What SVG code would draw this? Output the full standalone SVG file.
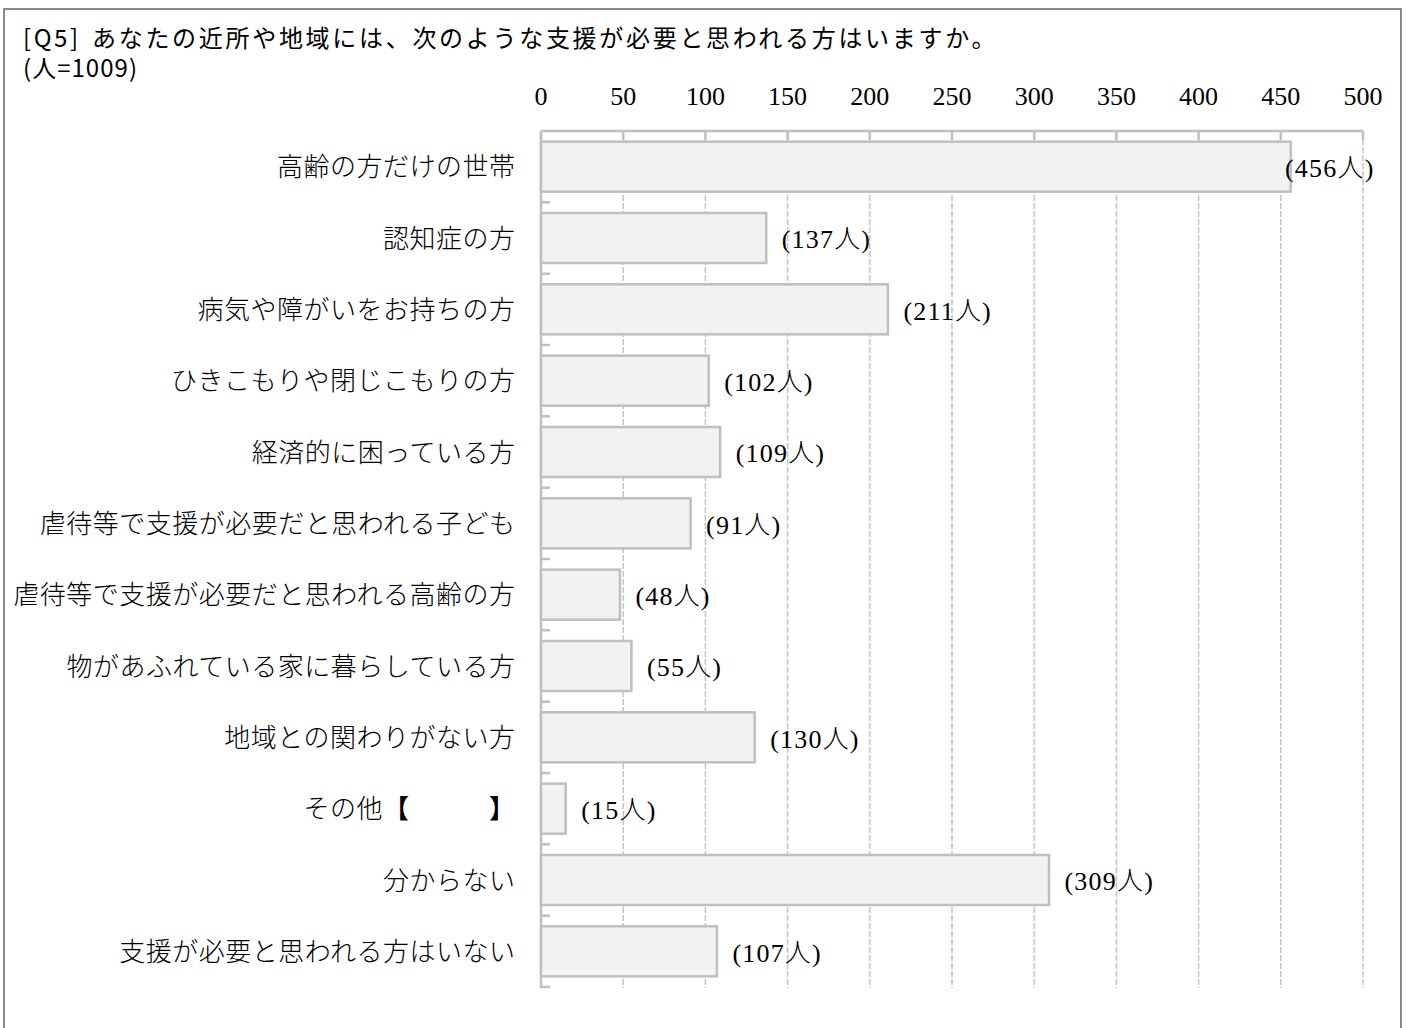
<svg xmlns="http://www.w3.org/2000/svg" width="1407" height="1028" viewBox="0 0 1407 1028">
<style>
.frame{fill:#ffffff;stroke:#898989;stroke-width:2}
.title{font-family:"Noto Sans CJK JP","Noto Sans",sans-serif;font-size:24px;fill:#000}
.ax{stroke:#bfbfbf;stroke-width:2.5;fill:none}
.grid{stroke:#c4c4c4;stroke-width:1.5;stroke-dasharray:6 2;fill:none}
.bar{fill:#f2f2f2;stroke:#bfbfbf;stroke-width:2.5}
.tick{font-family:"Liberation Serif","Noto Sans CJK JP",serif;font-size:26px;fill:#000;text-anchor:middle}
.cat{font-family:"Noto Sans CJK JP","Noto Sans",sans-serif;font-size:26px;font-weight:300;letter-spacing:0.5px;fill:#000;text-anchor:end}
.val{font-family:"Liberation Serif","Noto Sans CJK JP",serif;font-size:26px;font-weight:300;letter-spacing:1.2px;fill:#000}
</style>
<rect class="frame" x="4" y="9" width="1397" height="1030"/>
<g id="title">
<text class="title" x="23" y="47" textLength="55" lengthAdjust="spacing">[Q5]</text>
<text class="title" x="92" y="47" style="letter-spacing:2.7px">あなたの近所や地域には、次のような支援が必要と思われる方はいますか。</text>
<text class="title" x="23" y="77" textLength="114" lengthAdjust="spacing">(人=1009)</text>
</g>
<g id="axis-labels">
<text class="tick" x="541" y="105">0</text>
<text class="tick" x="623.2" y="105">50</text>
<text class="tick" x="705.4" y="105">100</text>
<text class="tick" x="787.6" y="105">150</text>
<text class="tick" x="869.8" y="105">200</text>
<text class="tick" x="952" y="105">250</text>
<text class="tick" x="1034.2" y="105">300</text>
<text class="tick" x="1116.4" y="105">350</text>
<text class="tick" x="1198.6" y="105">400</text>
<text class="tick" x="1280.8" y="105">450</text>
<text class="tick" x="1363" y="105">500</text>
</g>
<g id="gridlines">
<path class="grid" d="M623.2 131V988M705.4 131V988M787.6 131V988M869.8 131V988M952 131V988M1034.2 131V988M1116.4 131V988M1198.6 131V988M1280.8 131V988M1363 131V988"/>
</g>
<g id="axes">
<path class="ax" d="M541 131H1363M541 131V988"/>
<path class="ax" d="M541 131V140M623.2 131V140M705.4 131V140M787.6 131V140M869.8 131V140M952 131V140M1034.2 131V140M1116.4 131V140M1198.6 131V140M1280.8 131V140M1363 131V140"/>
<path class="ax" d="M541 202.33H550M541 273.67H550M541 345H550M541 416.33H550M541 487.67H550M541 559H550M541 630.33H550M541 701.67H550M541 773H550M541 844.33H550M541 915.67H550M541 987H550"/>
</g>
<g id="bar-1">
<rect class="bar" x="541" y="141.67" width="749.7" height="50"/>
<text class="cat" x="515.5" y="176.2">高齢の方だけの世帯</text>
<text class="val" x="1285" y="177">(456人)</text>
</g>
<g id="bar-2">
<rect class="bar" x="541" y="213" width="225.2" height="50"/>
<text class="cat" x="515.5" y="247.5">認知症の方</text>
<text class="val" x="781.7" y="248.3">(137人)</text>
</g>
<g id="bar-3">
<rect class="bar" x="541" y="284.33" width="346.9" height="50"/>
<text class="cat" x="515.5" y="318.8">病気や障がいをお持ちの方</text>
<text class="val" x="903.4" y="319.6">(211人)</text>
</g>
<g id="bar-4">
<rect class="bar" x="541" y="355.67" width="167.7" height="50"/>
<text class="cat" x="515.5" y="390.2">ひきこもりや閉じこもりの方</text>
<text class="val" x="724.2" y="391">(102人)</text>
</g>
<g id="bar-5">
<rect class="bar" x="541" y="427" width="179.2" height="50"/>
<text class="cat" x="515.5" y="461.5">経済的に困っている方</text>
<text class="val" x="735.7" y="462.3">(109人)</text>
</g>
<g id="bar-6">
<rect class="bar" x="541" y="498.33" width="149.6" height="50"/>
<text class="cat" x="515.5" y="532.8">虐待等で支援が必要だと思われる子ども</text>
<text class="val" x="706.1" y="533.6">(91人)</text>
</g>
<g id="bar-7">
<rect class="bar" x="541" y="569.67" width="78.9" height="50"/>
<text class="cat" x="515.5" y="604.2">虐待等で支援が必要だと思われる高齢の方</text>
<text class="val" x="635.4" y="605">(48人)</text>
</g>
<g id="bar-8">
<rect class="bar" x="541" y="641" width="90.4" height="50"/>
<text class="cat" x="515.5" y="675.5">物があふれている家に暮らしている方</text>
<text class="val" x="646.9" y="676.3">(55人)</text>
</g>
<g id="bar-9">
<rect class="bar" x="541" y="712.33" width="213.7" height="50"/>
<text class="cat" x="515.5" y="746.8">地域との関わりがない方</text>
<text class="val" x="770.2" y="747.6">(130人)</text>
</g>
<g id="bar-10">
<rect class="bar" x="541" y="783.67" width="24.7" height="50"/>
<text class="cat" x="515.5" y="818.2">その他<tspan font-weight="700">【</tspan>　　　<tspan font-weight="700">】</tspan></text>
<text class="val" x="581.2" y="819">(15人)</text>
</g>
<g id="bar-11">
<rect class="bar" x="541" y="855" width="508" height="50"/>
<text class="cat" x="515.5" y="889.5">分からない</text>
<text class="val" x="1064.5" y="890.3">(309人)</text>
</g>
<g id="bar-12">
<rect class="bar" x="541" y="926.33" width="175.9" height="50"/>
<text class="cat" x="515.5" y="960.8">支援が必要と思われる方はいない</text>
<text class="val" x="732.4" y="961.6">(107人)</text>
</g>
</svg>
